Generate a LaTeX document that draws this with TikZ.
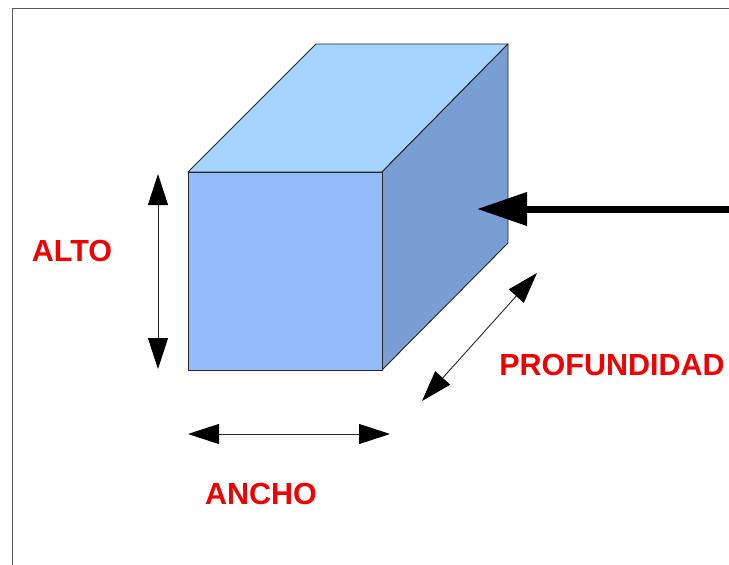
\documentclass[tikz,border=0pt]{standalone}
\usepackage{fontspec}
\setmainfont{Liberation Sans}
\usetikzlibrary{arrows.meta}
\definecolor{topface}{RGB}{164,212,255}
\definecolor{frontface}{RGB}{148,188,250}
\definecolor{sideface}{RGB}{121,158,212}
\definecolor{labelred}{RGB}{240,0,0}
\definecolor{framegray}{RGB}{90,90,90}
\tikzset{
  face/.style={draw=black!85, line width=0.9pt, line join=round},
  dimtip/.style={Triangle[length=31pt,width=20pt,color=black,fill=black]},
  dimarrow/.style={line width=0.9pt, black!85, {Triangle[length=31pt,width=20pt,color=black,fill=black]}-{Triangle[length=31pt,width=20pt,color=black,fill=black]}},
  forcearrow/.style={line width=7pt, black, -{Triangle[length=50pt,width=32pt]}},
  dimlabel/.style={inner sep=0pt, text=labelred, font=\fontsize{30.5}{36}\selectfont\bfseries},
}
\begin{document}
\begin{tikzpicture}[x=1pt,y=-1pt]
  \useasboundingbox (0,0) rectangle (729,565);
  \fill[white] (0,0) rectangle (729,565);
  % page frame
  \draw[framegray, line width=1pt] (12,565) -- (12,8) -- (729,8);

  % cube corners
  \coordinate (ftl) at (188,172);
  \coordinate (ftr) at (382,172);
  \coordinate (fbl) at (188,370);
  \coordinate (fbr) at (382,370);
  \coordinate (btl) at (316,44);
  \coordinate (btr) at (508,44);
  \coordinate (bbr) at (508,243);

  % cube faces
  \filldraw[face, fill=topface] (ftl) -- (btl) -- (btr) -- (ftr) -- cycle;
  \filldraw[face, fill=sideface] (ftr) -- (btr) -- (bbr) -- (fbr) -- cycle;
  \filldraw[face, fill=frontface] (ftl) -- (ftr) -- (fbr) -- (fbl) -- cycle;

  % dimension arrows
  \coordinate (altoTop) at (158,174);
  \coordinate (altoBot) at (158,369);
  \draw[dimarrow] (altoTop) -- (altoBot);

  \coordinate (anchoL) at (188,434);
  \coordinate (anchoR) at (390,434);
  \draw[dimarrow] (anchoL) -- (anchoR);

  \coordinate (profA) at (422,401);
  \coordinate (profB) at (537,273);
  \draw[dimarrow] (profA) -- (profB);

  % force arrow pushing on the side face
  \coordinate (forceStart) at (735,209);
  \coordinate (forceTip) at (477,209);
  \draw[forcearrow] (forceStart) -- (forceTip);

  % labels
  \node[dimlabel] (alto) at (72,251) {ALTO};
  \node[dimlabel] (ancho) at (261,494) {ANCHO};
  \node[dimlabel] (prof) at (612,365) {PROFUNDIDAD};
\end{tikzpicture}
\end{document}
